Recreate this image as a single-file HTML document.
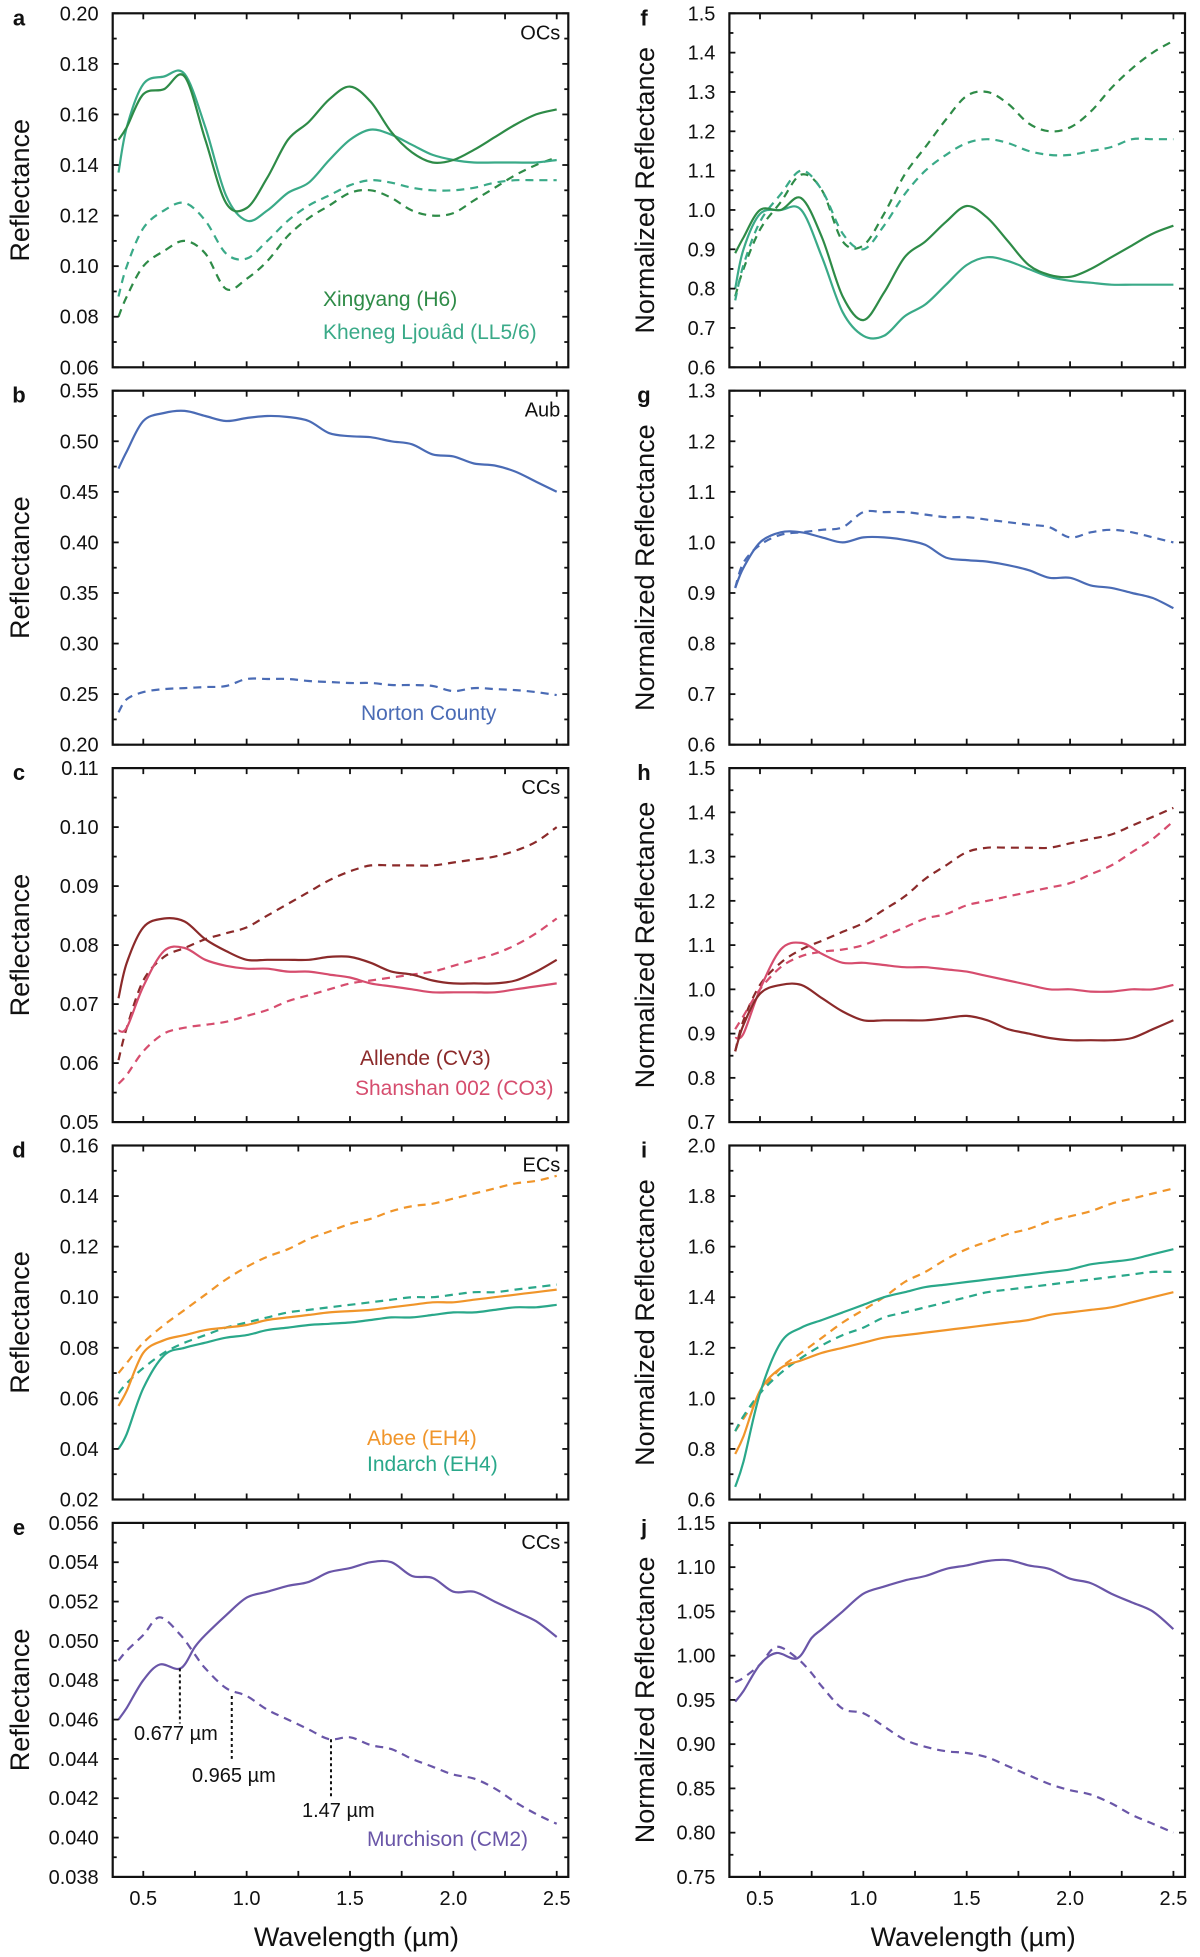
<!DOCTYPE html>
<html><head><meta charset="utf-8"><style>
html,body{margin:0;padding:0;background:#fff}
svg{display:block;font-family:"Liberation Sans",sans-serif}
</style></head><body>
<svg id="fig" width="1200" height="1957" viewBox="0 0 1200 1957" xmlns="http://www.w3.org/2000/svg"></svg>
<script>
// ---- data ----
const wlStd = [0.38,0.42,0.5,0.6,0.7,0.8,0.9,1.0,1.1,1.2,1.3,1.4,1.5,1.6,1.7,1.8,1.9,2.0,2.1,2.2,2.3,2.4,2.5];
const wlCM = [0.38,0.42,0.5,0.58,0.68,0.75,0.8,0.9,1.0,1.1,1.2,1.3,1.4,1.5,1.6,1.7,1.8,1.9,2.0,2.1,2.2,2.3,2.4,2.5];
const xingyangA = [0.150,0.155,0.168,0.170,0.175,0.150,0.125,0.123,0.135,0.150,0.157,0.166,0.171,0.165,0.153,0.145,0.141,0.142,0.146,0.151,0.156,0.160,0.162];
const khenegA = [0.137,0.155,0.172,0.175,0.176,0.155,0.128,0.118,0.122,0.129,0.133,0.142,0.150,0.154,0.152,0.148,0.144,0.142,0.141,0.141,0.141,0.141,0.142];
const xingyangAd = [0.080,0.088,0.100,0.106,0.110,0.105,0.091,0.095,0.102,0.112,0.119,0.124,0.129,0.130,0.127,0.122,0.120,0.121,0.126,0.131,0.136,0.140,0.143];
const khenegAd = [0.088,0.100,0.115,0.122,0.125,0.118,0.105,0.103,0.110,0.118,0.124,0.128,0.132,0.134,0.133,0.131,0.130,0.130,0.131,0.133,0.134,0.134,0.134];
const xingyangF = [0.89,0.93,1.0,1.0,1.03,0.93,0.78,0.72,0.79,0.88,0.92,0.97,1.01,0.98,0.92,0.86,0.835,0.83,0.85,0.88,0.91,0.94,0.96];
const khenegF = [0.80,0.90,0.99,1.0,1.0,0.88,0.74,0.68,0.68,0.73,0.76,0.81,0.86,0.88,0.87,0.85,0.83,0.82,0.815,0.81,0.81,0.81,0.81];
const xingyangFd = [0.78,0.85,0.95,1.02,1.09,1.05,0.92,0.91,0.99,1.09,1.16,1.23,1.29,1.30,1.27,1.22,1.20,1.21,1.25,1.31,1.36,1.40,1.43];
const khenegFd = [0.77,0.86,0.97,1.04,1.10,1.05,0.94,0.90,0.96,1.04,1.10,1.14,1.17,1.18,1.17,1.15,1.14,1.14,1.15,1.16,1.18,1.18,1.18];
const aubB = [0.473,0.49,0.52,0.528,0.53,0.525,0.52,0.523,0.525,0.524,0.52,0.508,0.505,0.504,0.50,0.497,0.487,0.485,0.478,0.476,0.47,0.46,0.45];
const nortonB = [0.232,0.245,0.252,0.255,0.256,0.257,0.258,0.265,0.265,0.265,0.263,0.262,0.261,0.261,0.259,0.259,0.258,0.253,0.256,0.255,0.254,0.252,0.249];
const aubG = [0.91,0.95,1.0,1.02,1.02,1.01,1.0,1.01,1.01,1.005,0.995,0.97,0.965,0.962,0.955,0.945,0.93,0.93,0.915,0.91,0.90,0.89,0.87];
const nortonG = [0.91,0.96,0.995,1.015,1.02,1.025,1.03,1.06,1.06,1.06,1.055,1.05,1.05,1.045,1.04,1.035,1.03,1.01,1.02,1.025,1.02,1.01,1.0];
const allendeC = [0.071,0.077,0.083,0.0845,0.084,0.081,0.079,0.0775,0.0775,0.0775,0.0775,0.078,0.078,0.077,0.0755,0.075,0.074,0.0735,0.0735,0.0735,0.074,0.0755,0.0775];
const shanshanC = [0.0655,0.066,0.073,0.079,0.0795,0.0775,0.0765,0.076,0.076,0.0755,0.0755,0.075,0.0745,0.0735,0.073,0.0725,0.072,0.072,0.072,0.072,0.0725,0.073,0.0735];
const allendeCd = [0.0605,0.066,0.074,0.078,0.0795,0.081,0.082,0.083,0.085,0.087,0.089,0.091,0.0925,0.0935,0.0935,0.0935,0.0935,0.094,0.0945,0.095,0.096,0.0975,0.100];
const shanshanCd = [0.0565,0.058,0.062,0.065,0.066,0.0665,0.067,0.068,0.069,0.0705,0.0715,0.0725,0.0735,0.074,0.0745,0.075,0.0755,0.0765,0.0775,0.0785,0.080,0.082,0.0845];
const allendeH = [0.86,0.92,0.99,1.01,1.01,0.98,0.95,0.93,0.93,0.93,0.93,0.935,0.94,0.93,0.91,0.90,0.89,0.885,0.885,0.885,0.89,0.91,0.93];
const shanshanH = [0.89,0.90,1.0,1.09,1.105,1.08,1.06,1.06,1.055,1.05,1.05,1.045,1.04,1.03,1.02,1.01,1.0,1.0,0.995,0.995,1.0,1.0,1.01];
const allendeHd = [0.86,0.93,1.01,1.06,1.09,1.11,1.13,1.15,1.18,1.21,1.25,1.28,1.31,1.32,1.32,1.32,1.32,1.33,1.34,1.35,1.37,1.39,1.41];
const shanshanHd = [0.91,0.94,1.0,1.05,1.075,1.085,1.09,1.10,1.12,1.14,1.16,1.17,1.19,1.20,1.21,1.22,1.23,1.24,1.26,1.28,1.31,1.34,1.38];
const abeeD = [0.057,0.063,0.078,0.083,0.085,0.087,0.088,0.089,0.091,0.092,0.093,0.094,0.0945,0.095,0.096,0.097,0.098,0.098,0.099,0.100,0.101,0.102,0.103];
const indarchD = [0.040,0.046,0.064,0.077,0.080,0.082,0.084,0.085,0.087,0.088,0.089,0.0895,0.090,0.091,0.092,0.092,0.093,0.094,0.094,0.095,0.096,0.096,0.097];
const abeeDd = [0.070,0.074,0.082,0.089,0.095,0.101,0.107,0.112,0.116,0.119,0.123,0.126,0.129,0.131,0.134,0.136,0.137,0.139,0.141,0.143,0.145,0.146,0.148];
const indarchDd = [0.062,0.066,0.072,0.078,0.082,0.085,0.088,0.090,0.092,0.094,0.095,0.096,0.097,0.098,0.099,0.100,0.100,0.101,0.102,0.102,0.103,0.104,0.105];
const abeeI = [0.78,0.85,1.03,1.12,1.15,1.18,1.20,1.22,1.24,1.25,1.26,1.27,1.28,1.29,1.30,1.31,1.33,1.34,1.35,1.36,1.38,1.40,1.42];
const indarchI = [0.65,0.75,1.02,1.22,1.28,1.31,1.34,1.37,1.40,1.42,1.44,1.45,1.46,1.47,1.48,1.49,1.50,1.51,1.53,1.54,1.55,1.57,1.59];
const abeeId = [0.87,0.92,1.02,1.12,1.18,1.24,1.30,1.35,1.40,1.46,1.50,1.55,1.59,1.62,1.65,1.67,1.70,1.72,1.74,1.77,1.79,1.81,1.83];
const indarchId = [0.87,0.93,1.02,1.10,1.16,1.21,1.25,1.28,1.32,1.34,1.36,1.38,1.40,1.42,1.43,1.44,1.45,1.46,1.47,1.48,1.49,1.50,1.50];
const murchE = [0.0460,0.0466,0.0480,0.0488,0.0486,0.0497,0.0503,0.0513,0.0522,0.0525,0.0528,0.0530,0.0535,0.0537,0.0540,0.0540,0.0533,0.0532,0.0525,0.0525,0.0520,0.0515,0.0510,0.0502];
const murchEd = [0.0490,0.0495,0.0503,0.0512,0.0503,0.0493,0.0486,0.0476,0.0472,0.0465,0.0460,0.0455,0.0450,0.0451,0.0447,0.0445,0.0440,0.0436,0.0432,0.0430,0.0425,0.0418,0.0412,0.0407];
const murchJ = [0.948,0.96,0.99,1.003,0.997,1.02,1.03,1.05,1.07,1.078,1.085,1.09,1.098,1.102,1.107,1.108,1.102,1.098,1.087,1.082,1.07,1.06,1.05,1.03];
const murchJd = [0.97,0.975,0.99,1.01,0.997,0.98,0.965,0.94,0.935,0.92,0.905,0.897,0.892,0.89,0.885,0.875,0.865,0.855,0.848,0.843,0.833,0.82,0.81,0.80];
const xTicks = [0.5,0.75,1.0,1.25,1.5,1.75,2.0,2.25,2.5];
const xTickLabels = ["0.5","1.0","1.5","2.0","2.5"];
const annotWl = [0.677,0.928,1.408];
const annotTop = [0.0486,0.0472,0.0450];
const annotBottom = [0.0458,0.0440,0.0421];
const annotLabels = ["0.677 µm","0.965 µm","1.47 µm"];

// ---- layout ----
const NS="http://www.w3.org/2000/svg";
const svg=document.getElementById('fig');
const G1="#2e8b47",G2="#3aaa88",BL="#4a6bb5",AR="#8b2a2a",SP="#d64d6e",OR="#f0952a",TE="#2aa88a",PU="#6a56a8";
function el(tag,attrs,parent){const e=document.createElementNS(NS,tag);for(const k in attrs)e.setAttribute(k,attrs[k]);(parent||svg).appendChild(e);return e;}
function smooth(pts){let d="M"+pts[0][0].toFixed(1)+","+pts[0][1].toFixed(1);for(let i=0;i<pts.length-1;i++){const p0=pts[i-1]||pts[i],p1=pts[i],p2=pts[i+1],p3=pts[i+2]||p2;const c1=[p1[0]+(p2[0]-p0[0])/6,p1[1]+(p2[1]-p0[1])/6],c2=[p2[0]-(p3[0]-p1[0])/6,p2[1]-(p3[1]-p1[1])/6];d+=" C"+c1[0].toFixed(1)+","+c1[1].toFixed(1)+" "+c2[0].toFixed(1)+","+c2[1].toFixed(1)+" "+p2[0].toFixed(1)+","+p2[1].toFixed(1);}return d;}

const panels=[
 {id:'a',col:0,row:0,ymin:0.06,ymax:0.20,step:0.02,dec:2,tag:'OCs',title:'Reflectance',wl:wlStd,series:[[xingyangAd,G1,1],[khenegAd,G2,1],[khenegA,G2,0],[xingyangA,G1,0]],legend:[["Xingyang (H6)",G1,323,306],["Kheneg Ljouâd (LL5/6)",G2,323,339]]},
 {id:'b',col:0,row:1,ymin:0.20,ymax:0.55,step:0.05,dec:2,tag:'Aub',title:'Reflectance',wl:wlStd,series:[[aubB,BL,0],[nortonB,BL,1]],legend:[["Norton County",BL,361,720]]},
 {id:'c',col:0,row:2,ymin:0.05,ymax:0.11,step:0.01,dec:2,tag:'CCs',title:'Reflectance',wl:wlStd,series:[[allendeCd,AR,1],[shanshanCd,SP,1],[shanshanC,SP,0],[allendeC,AR,0]],legend:[["Allende (CV3)",AR,360,1065],["Shanshan 002 (CO3)",SP,355,1095]]},
 {id:'d',col:0,row:3,ymin:0.02,ymax:0.16,step:0.02,dec:2,tag:'ECs',title:'Reflectance',wl:wlStd,series:[[abeeDd,OR,1],[indarchDd,TE,1],[indarchD,TE,0],[abeeD,OR,0]],legend:[["Abee (EH4)",OR,367,1445],["Indarch (EH4)",TE,367,1471]]},
 {id:'e',col:0,row:4,ymin:0.038,ymax:0.056,step:0.002,dec:3,tag:'CCs',title:'Reflectance',wl:wlCM,series:[[murchEd,PU,1],[murchE,PU,0]],legend:[["Murchison (CM2)",PU,367,1846]]},
 {id:'f',col:1,row:0,ymin:0.6,ymax:1.5,step:0.1,dec:1,title:'Normalized Reflectance',wl:wlStd,series:[[xingyangFd,G1,1],[khenegFd,G2,1],[khenegF,G2,0],[xingyangF,G1,0]]},
 {id:'g',col:1,row:1,ymin:0.6,ymax:1.3,step:0.1,dec:1,title:'Normalized Reflectance',wl:wlStd,series:[[nortonG,BL,1],[aubG,BL,0]]},
 {id:'h',col:1,row:2,ymin:0.7,ymax:1.5,step:0.1,dec:1,title:'Normalized Reflectance',wl:wlStd,series:[[allendeHd,AR,1],[shanshanHd,SP,1],[shanshanH,SP,0],[allendeH,AR,0]]},
 {id:'i',col:1,row:3,ymin:0.6,ymax:2.0,step:0.2,dec:1,title:'Normalized Reflectance',wl:wlStd,series:[[abeeId,OR,1],[indarchId,TE,1],[abeeI,OR,0],[indarchI,TE,0]]},
 {id:'j',col:1,row:4,ymin:0.75,ymax:1.15,step:0.05,dec:2,title:'Normalized Reflectance',wl:wlCM,series:[[murchJd,PU,1],[murchJ,PU,0]]}
];
const PW=455.6, PH=354, ROWP=377.4;
panels.forEach(p=>{
  const L=p.col?729.4:112.7, T=13.3+p.row*ROWP, R=L+PW, B=T+PH;
  const X=w=>L+(w-0.352)/(2.556-0.352)*PW;
  const Y=v=>B-(v-p.ymin)/(p.ymax-p.ymin)*PH;
  const g=el('g',{});
  
  
  p.series.forEach((s,si)=>{
    const pts=p.wl.map((w,i)=>[X(w),Y(s[0][i])]);
    const path=el('path',{d:smooth(pts),fill:'none',stroke:s[1],'stroke-width':2.2,'stroke-linejoin':'round'},g);
    if(s[2])path.setAttribute('stroke-dasharray','8 6');
    
    
  });
  const fr=el('rect',{x:L,y:T,width:PW,height:PH,fill:'none',stroke:'#111','stroke-width':2.2},g);
  
  
  xTicks.forEach(t=>{const x=X(t);el('line',{x1:x,y1:B,x2:x,y2:B-6,stroke:'#111','stroke-width':1.8},g);el('line',{x1:x,y1:T,x2:x,y2:T+6,stroke:'#111','stroke-width':1.8},g);});
  const n=Math.round((p.ymax-p.ymin)/p.step);
  for(let k=0;k<=2*n;k++){const v=p.ymin+k*p.step/2,y=Y(v),len=k%2?4:6;
    el('line',{x1:L,y1:y,x2:L+len,y2:y,stroke:'#111','stroke-width':1.8},g);el('line',{x1:R,y1:y,x2:R-len,y2:y,stroke:'#111','stroke-width':1.8},g);
    if(k%2===0){const tl=el('text',{x:L-14,y:y+7,'text-anchor':'end','font-size':20,fill:'#111'},g);tl.textContent=v.toFixed(p.dec);
      
      }
  }
  if(p.row===4){xTickLabels.forEach(s=>{const t=el('text',{x:X(parseFloat(s)),y:1905,'text-anchor':'middle','font-size':20,fill:'#111'},g);t.textContent=s;
    
    });
    const xl=el('text',{x:L+PW*0.535,y:1946,'text-anchor':'middle','font-size':27,fill:'#111'},g);xl.textContent='Wavelength (µm)';
    
    }
  const cx=p.col?645:20, cy=T+PH/2;
  const yt=el('text',{x:cx,y:cy,'text-anchor':'middle','font-size':27,fill:'#111',transform:`rotate(-90 ${cx} ${cy}) translate(0 9)`},g);yt.textContent=p.title;
  
  
  const pl=el('text',{x:p.col?644:19,y:T+12,'text-anchor':'middle','font-size':22,'font-weight':'bold',fill:'#111'},g);pl.textContent=p.id;
  
  
  if(p.tag){const tg=el('text',{x:R-8,y:T+26,'text-anchor':'end','font-size':20,fill:'#111'},g);tg.textContent=p.tag;
    
    }
  (p.legend||[]).forEach(l=>{const t=el('text',{x:l[2],y:l[3],'font-size':21,fill:l[1]},g);t.textContent=l[0];
    
    });
  if(p.id==='e'){
    const lx=[134,192,302], ly=[1740,1782,1817];
    annotWl.forEach((w,i)=>{const ln=el('line',{x1:X(w),y1:Y(annotTop[i]),x2:X(w),y2:Y(annotBottom[i]),stroke:'#111','stroke-width':2,'stroke-dasharray':'3 3'},g);
      
      
      const t=el('text',{x:lx[i],y:ly[i],'font-size':20,fill:'#111'},g);t.textContent=annotLabels[i];
      
      });
  }
});
</script>
</body></html>
